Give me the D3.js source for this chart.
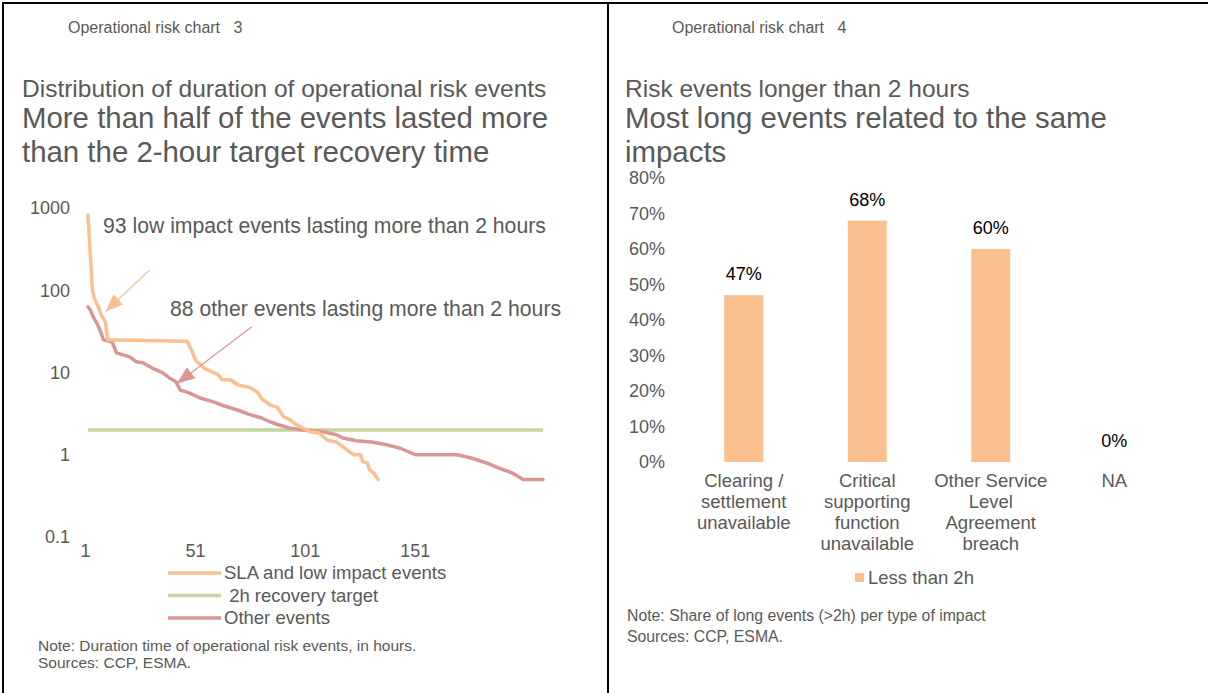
<!DOCTYPE html>
<html>
<head>
<meta charset="utf-8">
<script src="https://cdn.jsdelivr.net/npm/d3@7"></script>
<style>
body{margin:0;background:#fff;}
text{font-family:"Liberation Sans",Arial,sans-serif;}
</style>
</head>
<body>
<div id="canvas"></div>
<script>
var width = 1208,
	height = 693;

// chart 3 - [event rank, duration in hours]
var lowImpactEvents = [[1,820],[2,290],[3,100],[4,78],[6,60],[7,50],[8,45],[9,40],[10,25],[46,24],[48,19],[50,14],[52,12.5],[54,11.2],[56,10.6],[58,10],[60,9.5],[62,8.2],[66,8.1],[69,7.1],[75,6.5],[78,5.8],[80,4.8],[84,4.0],[87,3.8],[90,2.9],[93,2.65],[96,2.3],[99,2.1],[102,1.9],[106,1.85],[110,1.5],[114,1.43],[117,1.25],[120,1.08],[122,1.0],[125,1.0],[126,0.82],[128,0.8],[129,0.66],[131,0.6],[133,0.5]];
var otherEvents = [[1,63],[2,58],[3,50],[4,44],[5,40],[6,35],[7,30],[8,25],[12,23.5],[14,17.3],[17,16.4],[20,15.5],[23,13.5],[26,13.1],[30,11.4],[35,9.9],[38,8.6],[41,7.7],[43,6.1],[47,5.65],[52,4.9],[58,4.4],[62,4.0],[69,3.5],[75,3.05],[80,2.8],[84,2.5],[88,2.3],[93,2.1],[99,2.0],[108,1.9],[114,1.75],[117,1.6],[123,1.48],[130,1.43],[137,1.32],[143,1.2],[150,1.0],[169,1.0],[175,0.92],[182,0.8],[188,0.69],[194,0.6],[199,0.5],[208,0.5]];
var recoveryTarget = 2;
var eventCount = 208;
var hourTicks = [0.1, 1, 10, 100, 1000];
var rankTicks = [1, 51, 101, 151];
var chart3Legend = ["SLA and low impact events", " 2h recovery target", "Other events"];

// chart 4
var impactTypes = ["Clearing / settlement unavailable", "Critical supporting function unavailable", "Other Service Level Agreement breach", "NA"];
var impactLines = [["Clearing /", "settlement", "unavailable"], ["Critical", "supporting", "function", "unavailable"], ["Other Service", "Level", "Agreement", "breach"], ["NA"]];
var longShare = [0.47, 0.68, 0.60, 0];
var shareTicks = [0, 0.1, 0.2, 0.3, 0.4, 0.5, 0.6, 0.7, 0.8];

var grey = "#595959",
	orange = "#FAC090",
	rose = "#D99694",
	green = "#C3D69B";

var svg = d3.select("#canvas").append("svg")
	.attr("width", width)
	.attr("height", height)
	.style("background-color", "#fff");

// panel frame
svg.append("line").attr("x1", 2).attr("x2", width).attr("y1", 3).attr("y2", 3).attr("stroke", "#000").attr("stroke-width", 2);
svg.append("line").attr("x1", 3).attr("x2", 3).attr("y1", 2).attr("y2", height).attr("stroke", "#000").attr("stroke-width", 2);
svg.append("line").attr("x1", 608).attr("x2", 608).attr("y1", 2).attr("y2", height).attr("stroke", "#000").attr("stroke-width", 2);

function txt(x, y, s, size, color, anchor){
	return svg.append("text")
		.attr("x", x).attr("y", y)
		.attr("dy", "0.35em")
		.attr("font-size", size)
		.attr("fill", color || grey)
		.attr("text-anchor", anchor || "start")
		.style("white-space", "pre")
		.text(s);
}

// ---- headers
txt(68, 27, "Operational risk chart   3", 16);
txt(22, 88, "Distribution of duration of operational risk events", 24.5);
txt(22, 118, "More than half of the events lasted more", 29.4);
txt(22, 152, "than the 2-hour target recovery time", 29.4);

txt(672, 27, "Operational risk chart   4", 16);
txt(625, 88, "Risk events longer than 2 hours", 24.5);
txt(625, 118, "Most long events related to the same", 29.4);
txt(625, 152, "impacts", 29.4);

// ---- chart 3
var x = d3.scaleLinear().domain([1, eventCount]).range([88, 543]);
var y = d3.scaleLog().domain([0.1, 1000]).range([537, 208]);

var yAxis = svg.append("g")
	.attr("transform", "translate(74,0)")
	.call(d3.axisLeft(y).tickValues(hourTicks).tickSize(0).tickPadding(4).tickFormat(function(d){ return d < 1 ? "0.1" : d3.format("d")(d); }));
yAxis.select(".domain").remove();
yAxis.selectAll("text").attr("font-size", 18).attr("fill", grey).style("font-family", "Liberation Sans, Arial, sans-serif");

var xAxis = svg.append("g")
	.attr("transform", "translate(-3,544)")
	.call(d3.axisBottom(x).tickValues(rankTicks).tickSize(0).tickPadding(0).tickFormat(d3.format("d")));
xAxis.select(".domain").remove();
xAxis.selectAll("text").attr("font-size", 18).attr("fill", grey).style("font-family", "Liberation Sans, Arial, sans-serif");

var line = d3.line()
	.x(function(d){ return x(d[0]); })
	.y(function(d){ return y(d[1]); });

svg.append("path")
	.datum([[1, recoveryTarget], [eventCount, recoveryTarget]])
	.attr("d", line)
	.attr("fill", "none").attr("stroke", green).attr("stroke-width", 3.5);

svg.append("path")
	.datum(otherEvents)
	.attr("d", line)
	.attr("fill", "none").attr("stroke", rose).attr("stroke-width", 3.5)
	.attr("stroke-linejoin", "round").attr("stroke-linecap", "round");

svg.append("path")
	.datum(lowImpactEvents)
	.attr("d", line)
	.attr("fill", "none").attr("stroke", orange).attr("stroke-width", 3.5)
	.attr("stroke-linejoin", "round").attr("stroke-linecap", "round");

// annotations with arrows
var defs = svg.append("defs");
[["headOrange", orange], ["headRose", rose]].forEach(function(m){
	defs.append("marker")
		.attr("id", m[0])
		.attr("markerUnits", "userSpaceOnUse")
		.attr("markerWidth", 18).attr("markerHeight", 14)
		.attr("refX", 17).attr("refY", 7)
		.attr("orient", "auto")
		.append("path")
		.attr("d", "M0,0 L18,7 L0,14 Z")
		.attr("fill", m[1]);
});

svg.append("line")
	.attr("x1", x(29)).attr("y1", y(176))
	.attr("x2", x(9.2)).attr("y2", y(56))
	.attr("stroke", orange).attr("stroke-width", 1.2)
	.attr("marker-end", "url(#headOrange)");
svg.append("line")
	.attr("x1", x(75.5)).attr("y1", y(36))
	.attr("x2", x(41.8)).attr("y2", y(7.45))
	.attr("stroke", rose).attr("stroke-width", 1.2)
	.attr("marker-end", "url(#headRose)");

txt(103, 226, "93 low impact events lasting more than 2 hours", 21.2);
txt(170, 309, "88 other events lasting more than 2 hours", 21.2);

// legend chart 3
var legendColors = [orange, green, rose];
chart3Legend.forEach(function(name, i){
	var ly = 573 + i * 22.5;
	svg.append("line")
		.attr("x1", 168).attr("x2", 221).attr("y1", ly).attr("y2", ly)
		.attr("stroke", legendColors[i]).attr("stroke-width", 3.5);
	txt(224, ly, name, 18.5);
});

txt(38, 646, "Note: Duration time of operational risk events, in hours.", 15.5);
txt(38, 663, "Sources: CCP, ESMA.", 15.5);

// ---- chart 4
var xb = d3.scaleBand()
	.domain(impactTypes)
	.range([682, 1176])
	.paddingInner(0.684)
	.paddingOuter(0.342);
var yb = d3.scaleLinear().domain([0, 0.8]).range([462, 178]);

var ybAxis = svg.append("g")
	.attr("transform", "translate(669,0)")
	.call(d3.axisLeft(yb).tickValues(shareTicks).tickSize(0).tickPadding(4).tickFormat(d3.format(".0%")));
ybAxis.select(".domain").remove();
ybAxis.selectAll("text").attr("font-size", 18).attr("fill", grey).style("font-family", "Liberation Sans, Arial, sans-serif");

svg.selectAll(".bar")
	.data(longShare)
	.enter()
	.append("rect")
	.classed("bar", true)
	.attr("x", function(d, i){ return xb(impactTypes[i]); })
	.attr("y", function(d){ return yb(d); })
	.attr("width", xb.bandwidth())
	.attr("height", function(d){ return yb(0) - yb(d); })
	.attr("fill", orange);

svg.selectAll(".barLabel")
	.data(longShare)
	.enter()
	.append("text")
	.classed("barLabel", true)
	.attr("x", function(d, i){ return xb(impactTypes[i]) + xb.bandwidth() / 2; })
	.attr("y", function(d){ return yb(d) - 21; })
	.attr("dy", "0.35em")
	.attr("text-anchor", "middle")
	.attr("font-size", 18)
	.attr("fill", "#000")
	.text(function(d){ return d3.format(".0%")(d); });

impactLines.forEach(function(lines, i){
	var cx = xb(impactTypes[i]) + xb.bandwidth() / 2;
	lines.forEach(function(s, j){
		txt(cx, 481 + j * 21, s, 18.5, grey, "middle");
	});
});

svg.append("rect")
	.attr("x", 855).attr("y", 573).attr("width", 9).attr("height", 9)
	.attr("fill", orange);
txt(868, 578, "Less than 2h", 18.5);

txt(627, 615, "Note: Share of long events (>2h) per type of impact", 15.8);
txt(627, 636, "Sources: CCP, ESMA.", 15.8);
</script>
</body>
</html>
